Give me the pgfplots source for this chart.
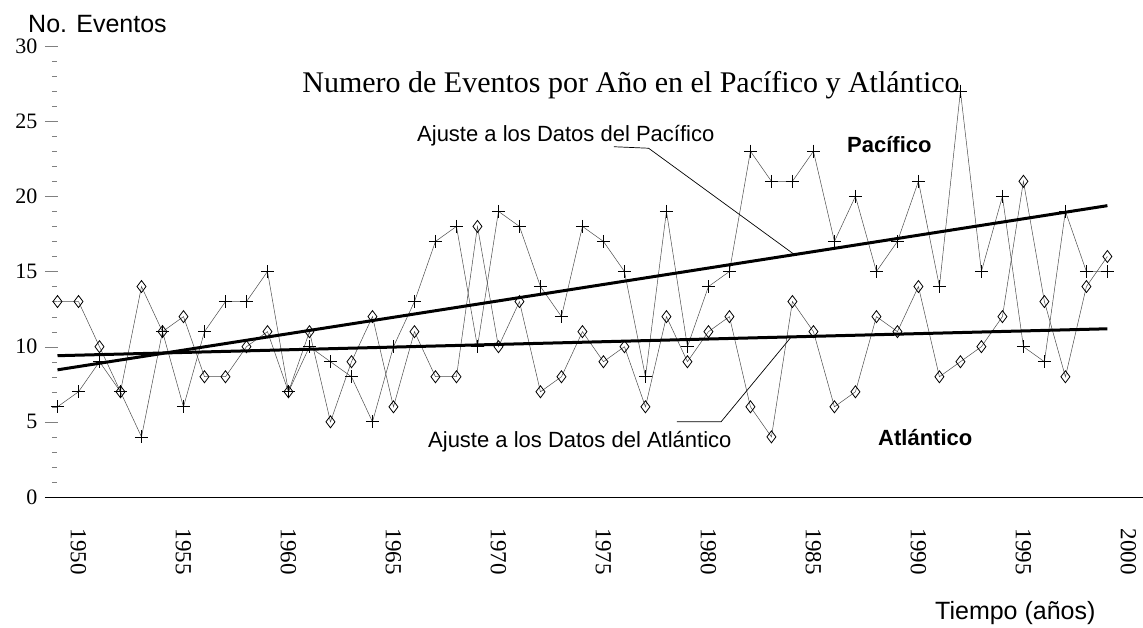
\documentclass[border=0pt]{standalone}
\usepackage{fontspec}
\setmainfont{Liberation Serif}
\setsansfont{Liberation Sans}
\usepackage{pgfplots}
\pgfplotsset{compat=1.18}
\usepackage{pgfplotstable}

\pgfplotstableread{
year pac atl
1949 6 13
1950 7 13
1951 9 10
1952 7 7
1953 4 14
1954 11 11
1955 6 12
1956 11 8
1957 13 8
1958 13 10
1959 15 11
1960 7 7
1961 10 11
1962 9 5
1963 8 9
1964 5 12
1965 10 6
1966 13 11
1967 17 8
1968 18 8
1969 10 18
1970 19 10
1971 18 13
1972 14 7
1973 12 8
1974 18 11
1975 17 9
1976 15 10
1977 8 6
1978 19 12
1979 10 9
1980 14 11
1981 15 12
1982 23 6
1983 21 4
1984 21 13
1985 23 11
1986 17 6
1987 20 7
1988 15 12
1989 17 11
1990 21 14
1991 14 8
1992 27 9
1993 15 10
1994 20 12
1995 10 21
1996 9 13
1997 19 8
1998 15 14
1999 15 16
}\datatable

\pgfplotstableread{
year pfit afit
1949 8.46 9.40
1999 19.38 11.19
}\fittable

\begin{document}
\begin{tikzpicture}
\useasboundingbox (0,0) rectangle (1143pt,-627pt);
\begin{axis}[
  at={(44.9pt,-497pt)}, anchor=south west,
  scale only axis, width=1098pt, height=451pt,
  xmin=1948.4, xmax=2000.69, ymin=0, ymax=30,
  axis lines*=left,
  y axis line style={draw=none},
  x axis line style={line width=0.8pt},
  clip=false,
  ytick={0,5,...,30},
  minor y tick num=4,
  tick align=inside,
  major tick length=13pt,
  minor tick length=5pt,
  minor y tick style={xshift=7pt},
  xtick={1950,1955,...,2000},
  major x tick style={draw=none},
  /pgf/number format/1000 sep={},
  /pgf/number format/assume math mode=true,
  yticklabel style={font=\fontsize{22}{22}\selectfont, xshift=-4pt},
  xticklabel style={font=\fontsize{23}{23}\selectfont, rotate=-90, anchor=west},
  xticklabel shift=28pt,
]
\addplot[line width=0.5pt, black!70, mark=+, mark size=6.5pt,
  mark options={solid, black, line width=0.7pt}] table[x=year,y=pac]{\datatable};
\addplot[line width=0.5pt, black!70, mark=diamond, mark size=6pt,
  mark options={solid, black, fill=white, line width=0.8pt}] table[x=year,y=atl]{\datatable};
\addplot[line width=3pt, black, no marks] table[x=year,y=pfit]{\fittable};
\addplot[line width=3pt, black, no marks] table[x=year,y=afit]{\fittable};
\draw[line width=0.7pt] (axis cs:1975.5,23.3) -- (axis cs:1977.15,23.2) -- (axis cs:1984.1,16.12);
\draw[line width=0.7pt] (axis cs:1978.5,5.0) -- (axis cs:1980.6,5.0) -- (axis cs:1983.95,10.66);
\end{axis}
\node[font=\sffamily\fontsize{25}{25}\selectfont, anchor=base west, inner sep=0pt] at (28pt,-32pt) {No. Eventos};
\node[font=\fontsize{30}{30}\selectfont, anchor=base, inner sep=0pt] at (631pt,-92pt) {Numero de Eventos por Año en el Pacífico y Atlántico};
\node[font=\sffamily\fontsize{22}{22}\selectfont, anchor=base west, inner sep=0pt] at (417pt,-141pt) {Ajuste a los Datos del Pacífico};
\node[font=\sffamily\bfseries\fontsize{22}{22}\selectfont, anchor=base west, inner sep=0pt] at (847pt,-152pt) {Pacífico};
\node[font=\sffamily\fontsize{22}{22}\selectfont, anchor=base west, inner sep=0pt] at (428pt,-447pt) {Ajuste a los Datos del Atlántico};
\node[font=\sffamily\bfseries\fontsize{22}{22}\selectfont, anchor=base west, inner sep=0pt] at (878pt,-445pt) {Atlántico};
\node[font=\sffamily\fontsize{25}{25}\selectfont, anchor=base west, inner sep=0pt] at (935pt,-619pt) {Tiempo (años)};
\end{tikzpicture}
\end{document}
